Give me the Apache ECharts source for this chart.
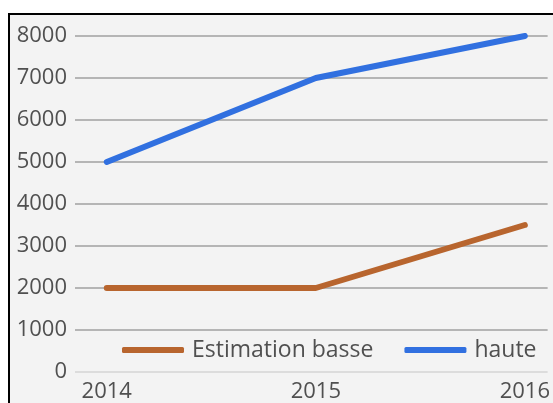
<!DOCTYPE html>
<html><head><meta charset="utf-8">
<script src="https://cdn.jsdelivr.net/npm/echarts@6/dist/echarts.min.js"></script>
<style>
html,body{margin:0;padding:0;background:#fff;width:553px;height:403px;overflow:hidden;}
#frame{position:absolute;left:8px;top:13px;width:600px;height:500px;border-left:2px solid #000;border-top:2px solid #000;background:#f3f3f3;}
#c{position:absolute;left:0;top:0;width:553px;height:403px;}
</style></head>
<body><div id="frame"></div><div id="c"></div>
<script>
const years = [2014, 2015, 2016];
const basse = [2000, 2000, 3500];
const haute = [5000, 7000, 8000];
const seriesNames = ['Estimation basse', 'haute'];

const chart = echarts.init(document.getElementById('c'), null, {renderer:'canvas'});
const font = "'Open Sans', sans-serif";
chart.setOption({
  backgroundColor: 'transparent',
  animation: false,
  grid: {left: 75, right: 0, top: 36, bottom: 31, containLabel: false},
  xAxis: {
    type: 'value', min: 2013.848, max: 2016.109,
    axisLine: {show: false}, axisTick: {show: false}, splitLine: {show: false},
    axisLabel: {customValues: years, formatter: v => String(Math.round(v)), color: '#505050', fontSize: 22, fontFamily: font, margin: 9}
  },
  yAxis: {
    type: 'value', min: 0, max: 8000, interval: 1000,
    axisLine: {show: false}, axisTick: {show: false},
    splitLine: {lineStyle: {color: ['#d4d4d4','#a0a0a0','#a0a0a0','#a0a0a0','#a0a0a0','#a0a0a0','#a0a0a0','#a0a0a0','#a0a0a0'], width: 1.5}},
    axisLabel: {formatter: v => String(v), color: '#505050', fontSize: 22, fontFamily: font, margin: 8}
  },
  legend: {
    left: 122, top: 337, padding: 0,
    itemWidth: 62, itemHeight: 6, itemGap: 31, icon: 'roundRect',
    textStyle: {color: '#505050', fontSize: 23, fontFamily: font, lineHeight: 26, padding: [0,0,0,3]},
    data: seriesNames
  },
  series: [
    {name: seriesNames[0], type: 'line', data: years.map((y,i)=>[y, basse[i]]), symbol: 'none',
     color: '#b8652e', lineStyle: {width: 6, color: '#b8652e', cap: 'round'}},
    {name: seriesNames[1], type: 'line', data: years.map((y,i)=>[y, haute[i]]), symbol: 'none',
     color: '#3170e0', lineStyle: {width: 6, color: '#3170e0', cap: 'round'}}
  ]
});
</script></body></html>
